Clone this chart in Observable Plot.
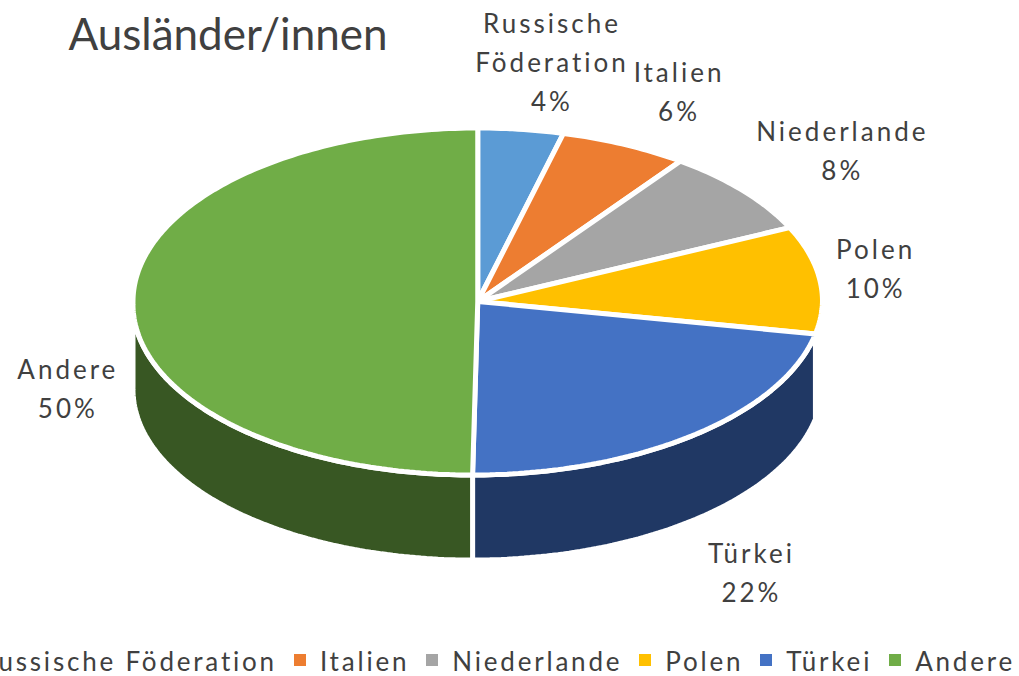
<!DOCTYPE html>
<html lang="de">
<head>
<meta charset="utf-8">
<script src="https://cdn.jsdelivr.net/npm/d3@7"></script>
<script src="https://cdn.jsdelivr.net/npm/@observablehq/plot@0.6"></script>
<style>
  html, body { margin: 0; padding: 0; background: #fff; overflow: hidden; }
  #chart { width: 1019px; height: 676px; overflow: hidden; }
  #chart svg { display: block; }
  #legend {
    width: 1015px; height: 42px; display: flex; justify-content: flex-end; align-items: center;
    white-space: nowrap; font: 26px Lato, sans-serif; letter-spacing: 2.8px; color: #404040; overflow: visible;
  }
  #legend .item { display: flex; align-items: center; flex: none; margin-left: 17px; }
  #legend .swatch { width: 12px; height: 12px; margin-right: 14px; flex: none; position: relative; top: -1px; }
</style>
</head>
<body>
<div id="chart"></div>
<script>
const title = "Ausländer/innen";
const categories = ["Russische Föderation", "Italien", "Niederlande", "Polen", "Türkei", "Andere"];
const labelText = ["Russische\nFöderation", "Italien", "Niederlande", "Polen", "Türkei", "Andere"];
const shares = [4, 6, 8, 10, 22, 50];
const colors = ["#5B9BD5", "#ED7D31", "#A5A5A5", "#FFC000", "#4472C4", "#70AD47"];
const sideColors = ["#2E4E6B", "#763E18", "#525252", "#7F6000", "#203864", "#385723"];
// label offset from the slice's rim midpoint, in disc radii
const labelOffsetX = [0.09, 0.158, 0.287, 0.162, 0.168, -0.189];
const labelOffsetY = [-0.405, -0.32, -0.25, -0.08, 0.778, 0.49];

const depth = 0.49;       // thickness of the disc, in disc radii
const slant = 0.015;      // slight perspective lean of the near half
const total = d3.sum(shares);
const cumulative = d3.cumsum(shares);
const project = (a, r = 1) => {
  const v = -Math.cos(a) * r;
  return [Math.sin(a) * r - slant * Math.max(0, v), v];
};

const tops = [], sides = [], labels = [];
categories.forEach((name, i) => {
  const a0 = (cumulative[i] - shares[i]) / total * 2 * Math.PI;
  const a1 = cumulative[i] / total * 2 * Math.PI;
  const mid = (a0 + a1) / 2;
  const steps = Math.max(4, Math.round((a1 - a0) * 60));
  const rim = d3.range(steps + 1).map(k => project(a0 + (a1 - a0) * k / steps));
  [[0, 0], ...rim, [0, 0]].forEach(([x, y]) => tops.push({name, x, y}));
  if (mid > Math.PI / 2 && mid < 2 * Math.PI) {
    // only the front half of the disc shows its wall
    const front = d3.range(steps + 1)
      .map(k => a0 + (a1 - a0) * k / steps)
      .filter(a => a <= 3 * Math.PI / 2 + 1e-6)
      .map(a => project(a));
    const wall = [...front, ...front.slice().reverse().map(([x, y]) => [x, y + depth]), front[0]];
    wall.forEach(([x, y]) => sides.push({name: name + " Seite", x, y}));
  }
  const [mx, my] = project(mid);
  labels.push({
    text: labelText[i] + "\n" + shares[i] + "%",
    x: mx + labelOffsetX[i],
    y: my + labelOffsetY[i]
  });
});

const plot = Plot.plot({
  width: 1019,
  height: 640,
  margin: 0,
  x: {type: "linear", domain: [-1, 1], range: [132.5, 822], axis: null},
  y: {type: "linear", domain: [-1, 1], range: [127.5, 474.5], axis: null},
  color: {
    type: "ordinal",
    domain: [...categories, ...categories.map(c => c + " Seite")],
    range: [...colors, ...sideColors]
  },
  marks: [
    Plot.line(sides, {x: "x", y: "y", z: "name", fill: "name", stroke: "white", strokeWidth: 5, strokeLinejoin: "miter"}),
    Plot.line(tops, {x: "x", y: "y", z: "name", fill: "name", stroke: "white", strokeWidth: 5, strokeLinejoin: "miter"}),
    Plot.text(labels, {
      x: "x", y: "y", text: "text", lineHeight: 1.5, fontSize: 26, fill: "#404040",
      fontFamily: "Lato, sans-serif"
    }),
    Plot.text([title], {
      frameAnchor: "top-left", dx: 68, dy: 35, text: d => d, fontSize: 44, fill: "#404040",
      textAnchor: "start", lineAnchor: "middle", fontFamily: "Lato, sans-serif"
    })
  ]
});
plot.querySelectorAll('g[aria-label="text"]').forEach((g, i) => { if (i === 0) g.style.letterSpacing = "3px"; });

const legend = d3.create("div").attr("id", "legend");
categories.forEach((name, i) => {
  const item = legend.append("div").attr("class", "item");
  item.append("span").attr("class", "swatch").style("background", colors[i]);
  item.append("span").text(name);
});
const chart = document.getElementById("chart");
chart.append(plot, legend.node());
</script>
</body>
</html>
